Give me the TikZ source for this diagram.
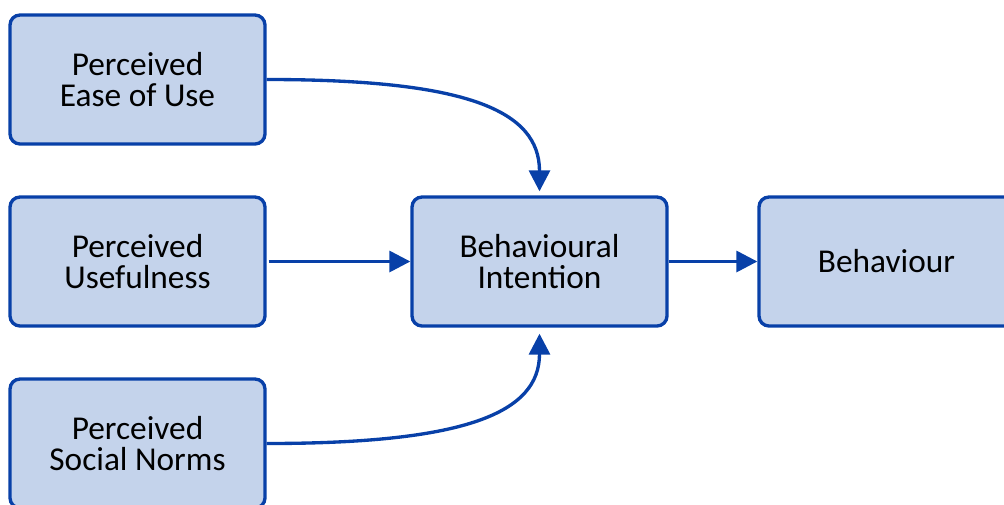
\documentclass[tikz,border=0pt]{standalone}
\usepackage{fontspec}
\setmainfont{Carlito}
\usetikzlibrary{arrows.meta,calc}
\definecolor{boxfill}{RGB}{196,211,235}
\definecolor{boxline}{RGB}{8,64,168}
\begin{document}
\begin{tikzpicture}[x=0.75pt,y=-0.75pt,
  tambox/.style={draw=boxline, fill=boxfill, line width=2.5pt, rounded corners=7.5pt,
    minimum width=191.25pt, minimum height=96.75pt, inner sep=0pt, align=center,
    font=\fontsize{25}{23}\selectfont},
  link/.style={draw=boxline, line width=2.5pt, -{Triangle[length=15.75pt,width=15.75pt]}}]
\clip (0,0) rectangle (1004,504);
\node[tambox] (pe) at (137.5,79.5) {Perceived\\Ease of Use};
\node[tambox] (pu) at (137.5,261.5) {Perceived\\Usefulness};
\node[tambox] (ps) at (137.5,443.5) {Perceived\\Social Norms};
\node[tambox] (bi) at (539.5,261.5) {Behavioural\\Intention};
\node[tambox] (be) at (886.5,261.5) {Behaviour};
\draw[link, shorten <=1.5pt] (pu.east) -- (bi.west);
\draw[link] (bi.east) -- (be.west);
\draw[link, shorten >=3pt] (pe.east) .. controls +(200,0) and +(0,-85) .. (bi.north);
\draw[link, shorten >=4.5pt] (ps.east) .. controls +(200,0) and +(0,85) .. (bi.south);
\end{tikzpicture}
\end{document}
